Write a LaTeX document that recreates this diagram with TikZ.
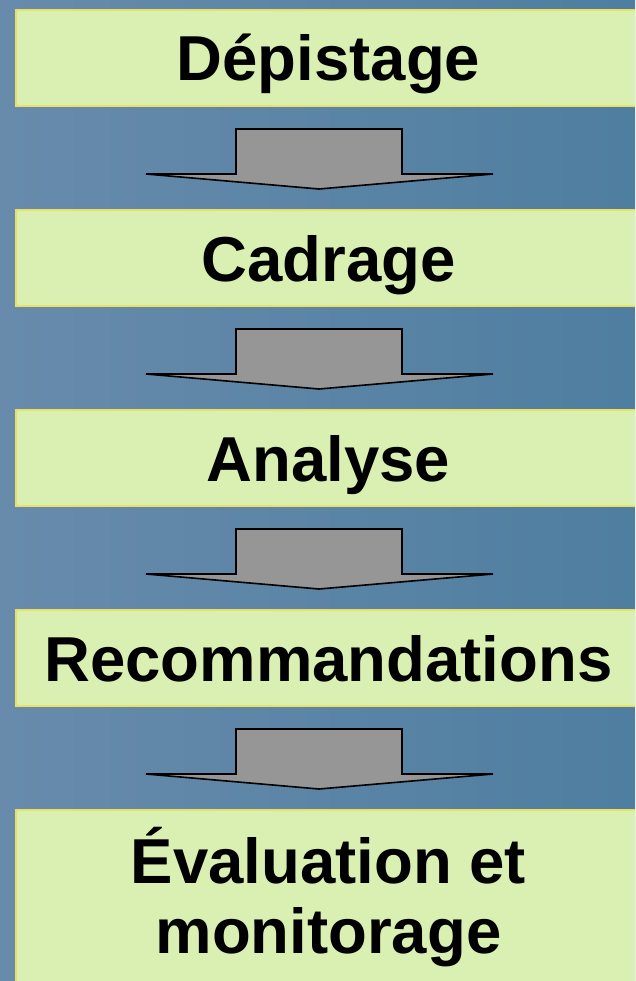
\documentclass[tikz,border=0pt]{standalone}
\usepackage{fontspec}
\setmainfont{Liberation Sans}
\usetikzlibrary{positioning}
\definecolor{bgleft}{RGB}{104,139,172}
\definecolor{bgright}{RGB}{78,126,160}
\definecolor{boxfill}{RGB}{218,240,178}
\definecolor{boxline}{RGB}{235,224,100}
\definecolor{arrowgray}{RGB}{150,150,150}
\tikzset{
  stage/.style={rectangle, draw=boxline, line width=2pt, fill=boxfill,
    minimum width=625pt, minimum height=96pt, inner sep=0pt,
    font=\fontsize{63.5}{70}\selectfont\bfseries,
    text height=58pt, text depth=12pt},
  blockarrow/.style={draw=black, line width=1.6pt, fill=arrowgray, line join=miter}
}
\begin{document}
\begin{tikzpicture}[x=1pt, y=-1pt]
      \useasboundingbox (0,0) rectangle (635,981);
      \clip (0,0) rectangle (635,981);
      \fill[left color=bgleft, right color=bgright] (0,0) rectangle (635,981);

      \node[stage, anchor=north west] (dep) at (15,9) {Dépistage};
      \node[stage, below=102pt of dep] (cad) {Cadrage};
      \node[stage, below=102pt of cad] (ana) {Analyse};
      \node[stage, below=102pt of ana] (rec) {Recommandations};
      \node[stage, below=102pt of rec, minimum height=181pt, align=center,
        text height=118pt, text depth=13pt] (eva) {Évaluation et\\monitorage};

      \foreach \a/\b in {dep/cad, cad/ana, ana/rec, rec/eva} {
        \path (\a.south) -- (\b.north) coordinate[pos=0.5] (m\a);
        \draw[blockarrow, shift={(m\a)}, xshift=-9.5pt]
          (-83,-29) -- (83,-29) -- (83,16) -- (174,16) -- (0,31) -- (-173,16) -- (-83,16) -- cycle;
      }
    \end{tikzpicture}
\end{document}
